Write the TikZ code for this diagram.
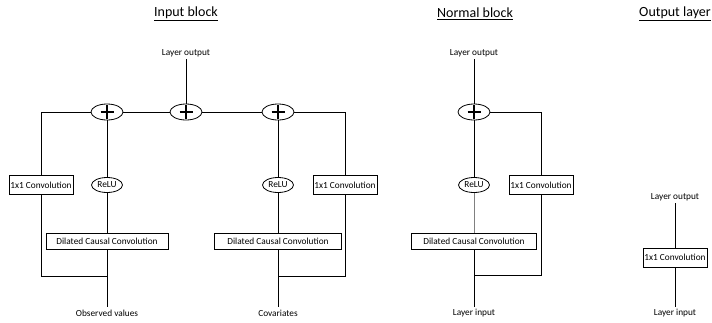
\documentclass[tikz,border=0pt]{standalone}
\usepackage{fontspec}
\setmainfont{Carlito}
\usetikzlibrary{shapes.geometric}

\tikzset{
  caixa/.style={draw, line width=0.8, fill=white, inner sep=1, minimum height=19,
    font=\fontsize{9.3}{11}\selectfont},
  relu/.style={draw, ellipse, line width=0.8, inner sep=0, minimum width=31, minimum height=15,
    font=\fontsize{9.3}{11}\selectfont},
  soma/.style={draw, ellipse, line width=0.8, minimum width=32, minimum height=16,
    path picture={\draw[line width=1.8]
      ([xshift=-6.5]path picture bounding box.center) -- ([xshift=6.5]path picture bounding box.center)
      ([yshift=-7]path picture bounding box.center) -- ([yshift=7]path picture bounding box.center);}},
  rotulo/.style={inner sep=2, font=\fontsize{9.3}{11}\selectfont},
  titulo/.style={font=\fontsize{14}{16}\selectfont}
}

\begin{document}
\begin{tikzpicture}[x=1pt, y=-1pt, line width=0.8]
  \useasboundingbox (0,0) rectangle (712,322);

  % Titulos
  \node[titulo] (t1) at (186,14) {\underline{Input block}};
  \node[titulo] (t2) at (475,14) {\underline{Normal block}};
  \node[titulo] (t3) at (675,14) {\underline{Output layer}};

  % Bloco de entrada
  \node[rotulo] (lo1) at (186,53) {Layer output};
  \node[soma] (p1) at (107,112) {};
  \node[soma] (p2) at (186,112) {};
  \node[soma] (p3) at (278,112) {};
  \coordinate (lc) at (41,112);
  \coordinate (rc) at (345,112);
  \node[caixa, minimum width=64] (conv1) at (41,185) {1x1 Convolution};
  \node[caixa, minimum width=64] (conv2) at (345,185) {1x1 Convolution};
  \node[relu] (relu1) at (107,185) {ReLU};
  \node[relu] (relu2) at (278,185) {ReLU};
  \node[caixa, minimum width=122, minimum height=16] (dcc1) at (107,241) {Dilated Causal Convolution};
  \node[caixa, minimum width=127, minimum height=16] (dcc2) at (278,241) {Dilated Causal Convolution};
  \coordinate (j1) at (107,276);
  \coordinate (j2) at (278,276);
  \node[rotulo] (obs) at (107,313) {Observed values};
  \node[rotulo] (cov) at (278,313) {Covariates};

  \draw (lo1) -- (p2);
  \draw (lc) -- (p1) -- (p2) -- (p3) -- (rc);
  \draw (p1) -- (relu1) -- (dcc1) -- (obs);
  \draw (p3) -- (relu2) -- (dcc2) -- (cov);
  \draw (lc) -- (conv1) (conv1) |- (j1);
  \draw (rc) -- (conv2) (conv2) |- (j2);

  % Bloco normal
  \node[rotulo] (lo2) at (474,53) {Layer output};
  \node[soma] (p4) at (474,112) {};
  \coordinate (rc2) at (541,112);
  \node[relu] (relu3) at (474,185) {ReLU};
  \node[caixa, minimum width=64] (conv3) at (541,185) {1x1 Convolution};
  \node[caixa, minimum width=125, minimum height=16] (dcc3) at (474,241) {Dilated Causal Convolution};
  \coordinate (j3) at (474,275);
  \node[rotulo] (li2) at (474,313) {Layer input};

  \draw (lo2) -- (p4) -- (relu3);
  \draw[gray] (relu3) -- (dcc3);
  \draw (dcc3) -- (li2);
  \draw (p4) -- (rc2) -- (conv3) (conv3) |- (j3);

  % Camada de saida
  \node[rotulo] (lo3) at (675,197) {Layer output};
  \node[caixa, minimum width=64] (conv4) at (675,257.5) {1x1 Convolution};
  \node[rotulo] (li3) at (675,313) {Layer input};
  \draw (lo3) -- (conv4) -- (li3);
\end{tikzpicture}
\end{document}
